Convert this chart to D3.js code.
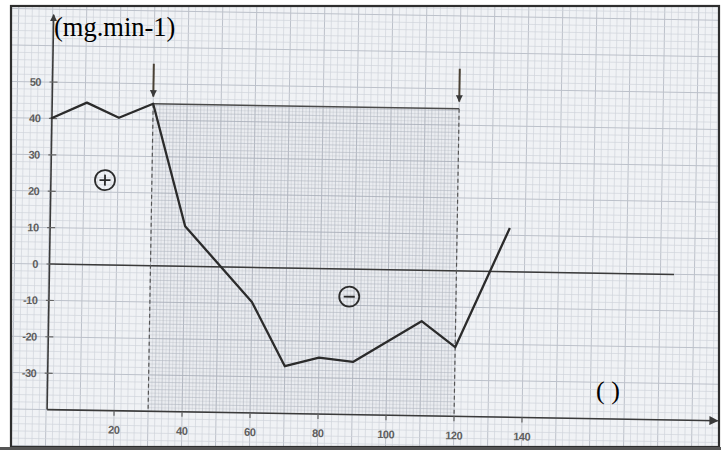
<!DOCTYPE html>
<html><head><meta charset="utf-8">
<script src="https://cdn.jsdelivr.net/npm/d3@7"></script>
<style>body{margin:0;background:#fff}svg{display:block}</style>
</head><body>
<svg id="c" width="721" height="450"></svg>
<script>
// ---- data ----
const timeMin = [0, 10.5, 20, 30, 40, 60, 70, 80, 90, 110, 120, 135.5];
const rate    = [40, 44.5, 40.5, 44.5, 11, -9.5, -27, -24.5, -25.5, -14, -21, 12];
const xTicks = [20, 40, 60, 80, 100, 120, 140];
const xTickLabels = ["20", "40", "60", "80", "100", "120", "140"];
const yTicks = [50, 40, 30, 20, 10, 0, -10, -20, -30];
const yTickLabels = ["50", "40", "30", "20", "10", "0", "-10", "-20", "-30"];
const markerTimes = [30, 120];
const plateauLevel = [44.5];
const unitLabel = "(mg.min-1)";
const blankLabel = "( )";
const signLabels = [{t: 16.2, v: 23.3, s: "+"}, {t: 88.6, v: -7.6, s: "-"}];

// ---- layout ----
const svg = d3.select("#c");
const W = 721, H = 450;
const x = d3.scaleLinear().domain([0, 140]).range([48.5, 48.5 + 140 * 3.4]);
const y = d3.scaleLinear().domain([0, 50]).range([264, 264 - 5 * 36.4]);

const defs = svg.append("defs");
defs.append("clipPath").attr("id", "frame")
  .append("rect").attr("x", 12).attr("y", 7).attr("width", 706).attr("height", 439);
function arrow(id, size) {
  defs.append("marker").attr("id", id).attr("viewBox", "0 0 10 10")
    .attr("refX", 9).attr("refY", 5).attr("markerWidth", size).attr("markerHeight", size)
    .attr("markerUnits", "userSpaceOnUse").attr("orient", "auto")
    .append("path").attr("d", "M0,0 L10,5 L0,10 Z").attr("fill", "#3a3a3a");
}
arrow("ah", 9);
arrow("ahs", 7);

// paper
svg.append("rect").attr("x", 11).attr("y", 6).attr("width", 708).attr("height", 441)
  .attr("fill", "#f0f2f5");

const root = svg.append("g").attr("clip-path", "url(#frame)");
const g = root.append("g").attr("transform", "rotate(0.95, 48, 264)");

// graph paper grid
const gx = d3.range(-16, 212, 2), gy = d3.range(-58, 82, 2);
g.append("g").selectAll("line").data(gx).join("line")
  .attr("x1", d => x(d)).attr("x2", d => x(d)).attr("y1", y(-60)).attr("y2", y(84))
  .attr("stroke", d => d % 10 === 0 ? "#bcc1ca" : "#d0d4db").attr("stroke-width", d => d % 10 === 0 ? 1 : 0.7);
g.append("g").selectAll("line").data(gy).join("line")
  .attr("y1", d => y(d)).attr("y2", d => y(d)).attr("x1", x(-18)).attr("x2", x(214))
  .attr("stroke", d => d % 10 === 0 ? "#bcc1ca" : "#d0d4db").attr("stroke-width", d => d % 10 === 0 ? 1 : 0.7);

// slightly darker grid between markers
const sh = g.append("g");
sh.append("rect").attr("x", x(markerTimes[0])).attr("y", y(plateauLevel[0]))
  .attr("width", x(markerTimes[1]) - x(markerTimes[0])).attr("height", y(-40) - y(plateauLevel[0]))
  .attr("fill", "#8a93a3").attr("opacity", 0.05);
sh.selectAll("line.v").data(d3.range(markerTimes[0] + 1, markerTimes[1], 1)).join("line")
  .attr("x1", d => x(d)).attr("x2", d => x(d)).attr("y1", y(plateauLevel[0])).attr("y2", y(-40))
  .attr("stroke", "#a3a9b4").attr("stroke-width", 0.5).attr("opacity", 0.45);
sh.selectAll("line.h").data(d3.range(-39, plateauLevel[0], 1)).join("line")
  .attr("y1", d => y(d)).attr("y2", d => y(d)).attr("x1", x(markerTimes[0])).attr("x2", x(markerTimes[1]))
  .attr("stroke", "#a3a9b4").attr("stroke-width", 0.5).attr("opacity", 0.45);

const ink = "#3a3a3a";
// axes
g.append("line").attr("x1", x(0.3)).attr("x2", x(0.3)).attr("y1", y(-40)).attr("y2", y(68.5))
  .attr("stroke", ink).attr("stroke-width", 1.6).attr("marker-end", "url(#ahs)");
g.append("line").attr("x1", x(0.3)).attr("x2", x(197.5)).attr("y1", y(-40)).attr("y2", y(-40))
  .attr("stroke", ink).attr("stroke-width", 1.6).attr("marker-end", "url(#ah)");
// zero line
g.append("line").attr("x1", x(0.3)).attr("x2", x(184)).attr("y1", y(0)).attr("y2", y(0))
  .attr("stroke", ink).attr("stroke-width", 1.5);

// y ticks & labels
g.append("g").selectAll("line").data(yTicks).join("line")
  .attr("x1", x(0.3) - 3).attr("x2", x(0.3) + 5).attr("y1", d => y(d)).attr("y2", d => y(d))
  .attr("stroke", "#666").attr("stroke-width", 1.2);
g.append("g").selectAll("text").data(yTicks).join("text")
  .attr("x", 38).attr("y", d => y(d)).attr("dy", "0.36em").attr("text-anchor", "end")
  .attr("font-family", "Liberation Sans, Arial, sans-serif").attr("font-weight", "bold")
  .attr("font-size", 11).attr("fill", "#5e5e5e").attr("letter-spacing", "-0.5")
  .text((d, i) => yTickLabels[i]);
// x ticks & labels
g.append("g").selectAll("line").data(xTicks).join("line")
  .attr("x1", d => x(d)).attr("x2", d => x(d)).attr("y1", y(-40)).attr("y2", y(-40) + 5)
  .attr("stroke", "#666").attr("stroke-width", 1.2);
g.append("g").selectAll("text").data(xTicks).join("text")
  .attr("x", d => x(d)).attr("y", y(-40) + 23).attr("text-anchor", "middle")
  .attr("font-family", "Liberation Sans, Arial, sans-serif").attr("font-weight", "bold")
  .attr("font-size", 11).attr("fill", "#5e5e5e").attr("letter-spacing", "-0.5")
  .text((d, i) => xTickLabels[i]);

// plateau line
g.append("line").attr("x1", x(markerTimes[0])).attr("x2", x(markerTimes[1]))
  .attr("y1", y(plateauLevel[0])).attr("y2", y(plateauLevel[0]))
  .attr("stroke", "#4a4a4a").attr("stroke-width", 1.5);
// dashed verticals
g.append("g").selectAll("line").data(markerTimes).join("line")
  .attr("x1", d => x(d)).attr("x2", d => x(d)).attr("y1", y(plateauLevel[0])).attr("y2", y(-40))
  .attr("stroke", "#555").attr("stroke-width", 1.2).attr("stroke-dasharray", "4,3");
// marker arrows
g.append("g").selectAll("line").data(markerTimes).join("line")
  .attr("x1", d => x(d)).attr("x2", d => x(d)).attr("y1", y(55.5)).attr("y2", y(46.5))
  .attr("stroke", "#4a4236").attr("stroke-width", 2).attr("marker-end", "url(#ahs)");

// data line
const pts = timeMin.map((t, i) => [t, rate[i]]);
g.append("path").datum(pts)
  .attr("d", d3.line().x(d => x(d[0])).y(d => y(d[1])))
  .attr("fill", "none").attr("stroke", "#2b2b2b").attr("stroke-width", 2.3)
  .attr("stroke-linejoin", "round");

// sign circles
const sg = g.append("g").selectAll("g").data(signLabels).join("g")
  .attr("transform", d => `translate(${x(d.t)},${y(d.v)})`);
sg.append("circle").attr("r", 10).attr("fill", "none").attr("stroke", "#2b2b2b").attr("stroke-width", 1.8);
sg.append("line").attr("x1", -5.5).attr("x2", 5.5).attr("stroke", "#2b2b2b").attr("stroke-width", 1.8);
sg.filter(d => d.s === "+").append("line").attr("y1", -5.5).attr("y2", 5.5)
  .attr("stroke", "#2b2b2b").attr("stroke-width", 1.8);

// overlaid typed texts
svg.append("text").attr("x", 54).attr("y", 36)
  .attr("font-family", "Liberation Serif, Times New Roman, serif").attr("font-size", 26.5)
  .attr("fill", "#000").text(unitLabel);
svg.append("text").attr("x", 596).attr("y", 399)
  .attr("font-family", "Liberation Serif, Times New Roman, serif").attr("font-size", 26)
  .attr("fill", "#000").text(blankLabel);

// frame
svg.append("rect").attr("x", 11).attr("y", 6).attr("width", 708).attr("height", 441)
  .attr("fill", "none").attr("stroke", "#2e2e2e").attr("stroke-width", 2.2);
svg.append("rect").attr("x", 0).attr("y", 447).attr("width", W).attr("height", 3).attr("fill", "#555");
</script>
</body></html>
